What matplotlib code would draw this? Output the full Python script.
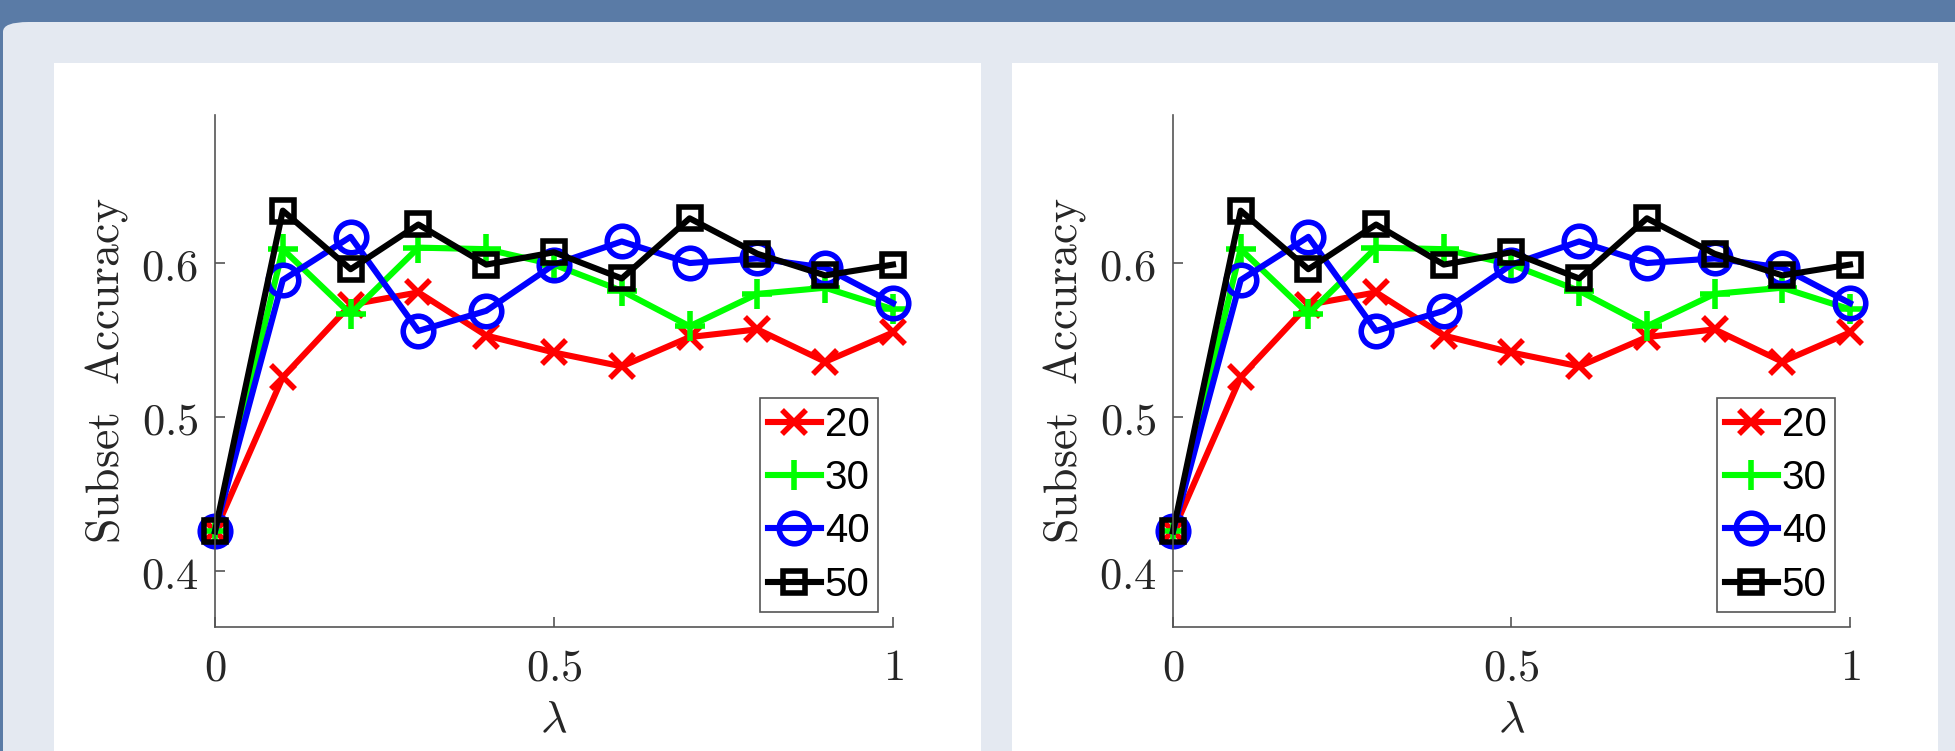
import numpy as np
import matplotlib
matplotlib.use("Agg")
import matplotlib.pyplot as plt
from matplotlib.patches import Rectangle, FancyBboxPatch

plt.rcParams['mathtext.fontset'] = 'cm'

# data
lam = [0.0, 0.1, 0.2, 0.3, 0.4, 0.5, 0.6, 0.7, 0.8, 0.9, 1.0]
acc_20 = [0.426, 0.526, 0.573, 0.581, 0.553, 0.542, 0.533, 0.552, 0.557, 0.536, 0.555]
acc_30 = [0.426, 0.609, 0.567, 0.610, 0.609, 0.599, 0.582, 0.559, 0.580, 0.584, 0.570]
acc_40 = [0.426, 0.589, 0.617, 0.556, 0.569, 0.599, 0.614, 0.600, 0.603, 0.597, 0.574]
acc_50 = [0.426, 0.634, 0.596, 0.625, 0.599, 0.607, 0.590, 0.629, 0.606, 0.592, 0.599]
labels = ['20', '30', '40', '50']
xticks = [0, 0.5, 1]
yticks = [0.4, 0.5, 0.6]

W, H = 1956, 751
fig = plt.figure(figsize=(W / 100, H / 100), dpi=100)
fig.patch.set_facecolor('#5a7ba6')

# page background: grey area with rounded corner under the blue bar
bg = FancyBboxPatch((3 / W, -0.1), 1.2, (H - 22) / H + 0.1,
                    boxstyle="round,pad=0,rounding_size=0.013",
                    transform=fig.transFigure, facecolor='#e4e9f1',
                    edgecolor='none', zorder=-10)
fig.patches.append(bg)
for x0, x1 in [(54, 981), (1012, 1938)]:
    fig.patches.append(Rectangle((x0 / W, 0), (x1 - x0) / W, (H - 63) / H,
                                 transform=fig.transFigure, facecolor='white',
                                 edgecolor='none', zorder=-9))


def draw_panel(ax):
    series = [(acc_20, 'r', 'x', 17), (acc_30, '#00ff00', '+', 22),
              (acc_40, 'b', 'o', 22), (acc_50, 'k', 's', 16)]
    for (vals, c, m, ms), lab in zip(series, labels):
        ax.plot(lam, vals, color=c, marker=m, markersize=ms, lw=4.4,
                markeredgewidth=4, markerfacecolor='none', label=lab,
                clip_on=False)
    ax.set_xlim(0, 1)
    ax.set_ylim(0.364, 0.696)
    ax.set_xticks(xticks)
    ax.set_xticklabels(['$0$', '$0.5$', '$1$'])
    ax.set_yticks(yticks)
    ax.set_yticklabels(['$%.1f$' % v for v in yticks])
    ax.spines['top'].set_visible(False)
    ax.spines['right'].set_visible(False)
    for s in ['left', 'bottom']:
        ax.spines[s].set_color('#555555')
        ax.spines[s].set_linewidth(1.2)
    ax.tick_params(direction='in', length=7, width=1.2, color='#555555',
                   labelsize=32, labelcolor='#262626')
    ax.tick_params(axis='x', pad=14)
    ax.tick_params(axis='y', pad=12)
    ax.set_xlabel(r'$\lambda$', fontsize=33, color='#262626', labelpad=6)
    ax.set_ylabel(r'$\mathrm{Subset\ \ Accuracy}$', fontsize=33,
                  color='#262626', labelpad=8)
    leg = ax.legend(loc='lower right', prop={'family': 'Liberation Sans', 'size': 29},
                    handlelength=1.3, handletextpad=0.1, labelspacing=0.38,
                    borderpad=0.2, borderaxespad=0.38, fancybox=False,
                    framealpha=1)
    leg.get_frame().set_edgecolor('#555555')
    leg.get_frame().set_linewidth(1.2)


ax1 = fig.add_axes([215 / W, 1 - 627 / H, (893 - 215) / W, (627 - 115) / H])
ax2 = fig.add_axes([1173 / W, 1 - 627 / H, (1850 - 1173) / W, (627 - 115) / H])
draw_panel(ax1)
draw_panel(ax2)

fig.savefig('out.png', dpi=100, facecolor=fig.get_facecolor())
